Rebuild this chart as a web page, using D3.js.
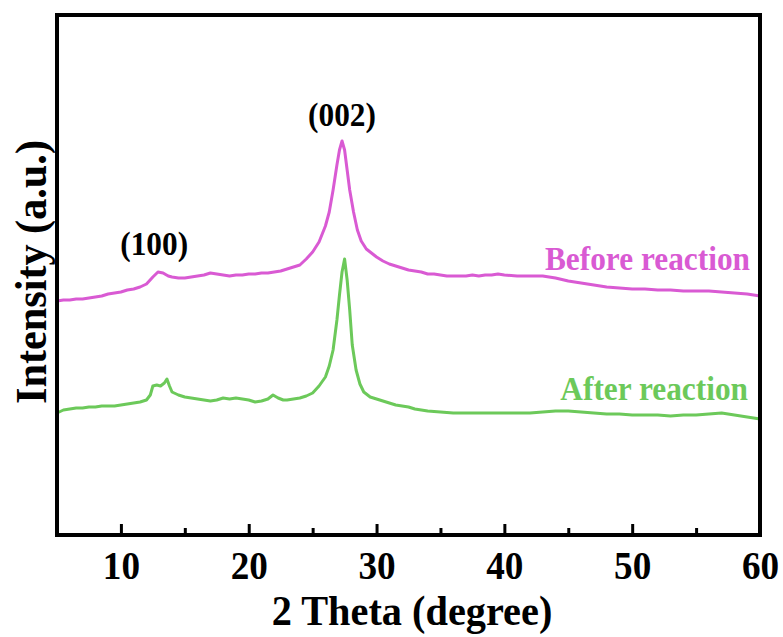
<!DOCTYPE html>
<html>
<head>
<meta charset="utf-8">
<script src="https://cdn.jsdelivr.net/npm/d3@7"></script>
<style>
  body { margin: 0; background: #fff; }
  text { font-family: "Liberation Serif", "Times New Roman", serif; font-weight: bold; }
</style>
</head>
<body>
<div id="chart"></div>
<script>
// 2 theta positions and intensities (a.u.)
var beforeTheta = [5, 5.5, 6, 6.5, 7, 7.5, 8, 8.5, 9, 9.5, 10, 10.5, 11, 11.5, 12, 12.5, 12.9, 13.3, 13.7, 14,
  14.5, 15, 15.5, 16, 16.5, 17, 17.5, 18, 18.5, 19, 19.5, 20, 20.5, 21, 21.5, 22, 22.5, 23, 23.5, 24,
  24.5, 25, 25.5, 26, 26.3, 26.6, 26.9, 27.1, 27.3, 27.5, 27.7, 27.9, 28.2, 28.5, 28.8, 29.2, 29.6, 30, 30.5, 31,
  31.5, 32, 32.5, 33, 33.5, 34, 34.5, 35, 35.5, 36, 36.5, 37, 37.5, 38, 38.5, 39, 39.5, 40, 41, 42,
  43, 44, 45, 46, 47, 48, 49, 50, 51, 52, 53, 54, 55, 56, 57, 58, 59, 60];
var beforeI = [234, 235, 235, 236, 236, 237, 238, 239, 241, 242, 243, 245, 246, 248, 251, 258, 263, 262, 259, 258,
  257, 257, 258, 259, 260, 262, 261, 260, 259, 260, 260, 261, 261, 262, 262, 263, 264, 266, 268, 270,
  276, 283, 293, 309, 323, 345, 370, 385, 394, 385, 365, 345, 323, 305, 294, 286, 282, 278, 274, 271,
  269, 267, 265, 264, 263, 261, 261, 260, 259, 259, 259, 259, 260, 259, 260, 260, 261, 260, 259, 259,
  259, 257, 254, 252, 250, 248, 247, 246, 246, 245, 245, 244, 244, 244, 243, 242, 241, 239];

var afterTheta = [5, 5.5, 6, 6.5, 7, 7.5, 8, 8.5, 9, 9.5, 10, 10.5, 11, 11.5, 12, 12.3, 12.5, 12.8, 13.1, 13.4,
  13.6, 13.8, 14, 14.5, 15, 15.5, 16, 16.5, 17, 17.5, 18, 18.5, 19, 19.5, 20, 20.5, 21, 21.5, 21.9, 22.3,
  22.7, 23, 23.5, 24, 24.5, 25, 25.5, 26, 26.3, 26.6, 26.9, 27.1, 27.3, 27.5, 27.7, 27.9, 28.1, 28.4, 28.7, 29,
  29.5, 30, 30.5, 31, 31.5, 32, 32.5, 33, 33.5, 34, 35, 36, 37, 38, 39, 40, 41, 42, 43, 44,
  45, 46, 47, 48, 49, 50, 51, 52, 53, 54, 55, 56, 57, 58, 59, 60];
var afterI = [122, 125, 126, 127, 127, 128, 128, 129, 129, 129, 130, 131, 132, 133, 135, 140, 149, 150, 149, 152,
  156, 149, 143, 140, 138, 137, 136, 135, 134, 135, 137, 136, 137, 136, 135, 133, 134, 136, 140, 137,
  135, 135, 136, 137, 139, 142, 149, 158, 169, 185, 215, 240, 263, 276, 255, 225, 190, 165, 151, 143,
  138, 136, 134, 132, 130, 129, 128, 126, 125, 124, 123, 122, 122, 122, 122, 122, 122, 122, 123, 124,
  124, 123, 122, 121, 121, 120, 120, 120, 119, 120, 120, 121, 122, 120, 118, 116];

var majorTicks = [10, 20, 30, 40, 50, 60];
var minorTicks = [15, 25, 35, 45, 55];

var peakLabels = [
  { text: '(100)', theta: 12.6, i: 280 },
  { text: '(002)', theta: 27.3, i: 409 }
];

var magenta = '#d95ad3',
    green = '#6cc95a';

var width = 783, height = 637;
var plotLeft = 57, plotRight = 760, plotTop = 15, plotBottom = 535;

var svg = d3.select('#chart').append('svg')
    .attr('width', width)
    .attr('height', height);

var x = d3.scaleLinear().domain([5, 60]).range([plotLeft, plotRight]);
var y = d3.scaleLinear().domain([0, 520]).range([plotBottom, plotTop]);

var line = d3.line()
    .x(function(d) { return x(d[0]); })
    .y(function(d) { return y(d[1]); });

function pairs(xs, ys) {
  return xs.map(function(v, i) { return [v, ys[i]]; });
}

svg.append('path')
    .datum(pairs(beforeTheta, beforeI))
    .attr('d', line)
    .attr('fill', 'none')
    .attr('stroke', magenta)
    .attr('stroke-width', 3)
    .attr('stroke-linejoin', 'round');

svg.append('path')
    .datum(pairs(afterTheta, afterI))
    .attr('d', line)
    .attr('fill', 'none')
    .attr('stroke', green)
    .attr('stroke-width', 3)
    .attr('stroke-linejoin', 'round');

// ticks point inward
var major = svg.append('g')
    .attr('transform', 'translate(0,' + plotBottom + ')')
    .call(d3.axisBottom(x).tickValues(majorTicks).tickSize(-11).tickFormat(d3.format('d')));
major.select('.domain').remove();
major.selectAll('line').attr('stroke', '#000').attr('stroke-width', 3);
major.selectAll('text')
    .attr('fill', '#000')
    .attr('dy', null)
    .attr('y', 44)
    .attr('transform', 'scale(0.93,1)')
    .style('font-size', '40px');

var minor = svg.append('g')
    .attr('transform', 'translate(0,' + plotBottom + ')')
    .call(d3.axisBottom(x).tickValues(minorTicks).tickSize(-7).tickFormat(''));
minor.select('.domain').remove();
minor.selectAll('line').attr('stroke', '#000').attr('stroke-width', 3);

svg.append('rect')
    .attr('x', plotLeft)
    .attr('y', plotTop)
    .attr('width', plotRight - plotLeft)
    .attr('height', plotBottom - plotTop)
    .attr('fill', 'none')
    .attr('stroke', '#000')
    .attr('stroke-width', 4);

svg.selectAll('.peak')
    .data(peakLabels)
  .enter().append('text')
    .attr('class', 'peak')
    .attr('transform', function(d) { return 'translate(' + x(d.theta) + ',' + y(d.i) + ') scale(0.95,1)'; })
    .attr('text-anchor', 'middle')
    .style('font-size', '33px')
    .text(function(d) { return d.text; });

svg.append('text')
    .attr('transform', 'translate(750,270) scale(0.95,1)')
    .attr('text-anchor', 'end')
    .attr('fill', magenta)
    .style('font-size', '33px')
    .text('Before reaction');

svg.append('text')
    .attr('transform', 'translate(748,400) scale(0.95,1)')
    .attr('text-anchor', 'end')
    .attr('fill', green)
    .style('font-size', '33px')
    .text('After reaction');

svg.append('text')
    .attr('transform', 'translate(412,625) scale(0.96,1)')
    .attr('text-anchor', 'middle')
    .style('font-size', '42px')
    .text('2 Theta (degree)');

svg.append('text')
    .attr('transform', 'translate(46,272) rotate(-90) scale(0.96,1)')
    .attr('text-anchor', 'middle')
    .style('font-size', '44px')
    .text('Intensity (a.u.)');
</script>
</body>
</html>
